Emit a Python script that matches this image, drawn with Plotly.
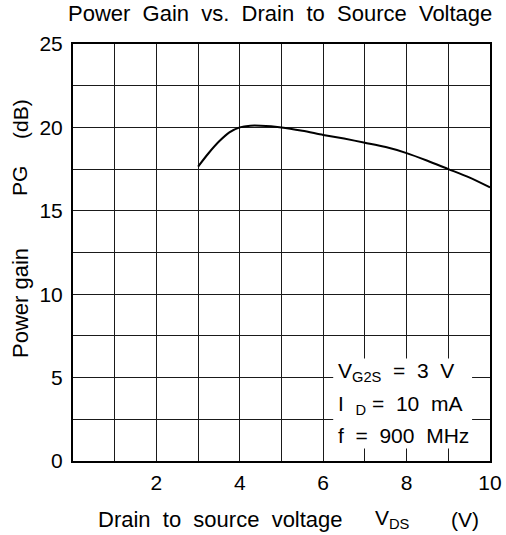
import plotly.graph_objects as go

# Data
vds = [3, 3.25, 3.5, 3.75, 4, 4.25, 4.5, 5, 5.5, 6, 6.5, 7, 7.5, 8, 8.5, 9, 9.5, 10]
pg = [17.65, 18.45, 19.15, 19.7, 20.0, 20.1, 20.1, 20.0, 19.8, 19.55, 19.33, 19.08,
      18.82, 18.46, 18.0, 17.5, 17.0, 16.4]

x_tickvals = [0, 1, 2, 3, 4, 5, 6, 7, 8, 9, 10]
x_ticktext = ["", "", "2", "", "4", "", "6", "", "8", "", "10"]
y_tickvals = [0, 2.5, 5, 7.5, 10, 12.5, 15, 17.5, 20, 22.5, 25]
y_ticktext = ["0", "", "5", "", "10", "", "15", "", "20", "", "25"]

N2 = "\u00a0\u00a0"
title_words = ["Power", "Gain", "vs.", "Drain", "to", "Source", "Voltage"]
x_title_words = ["Drain", "to", "source", "voltage"]
y_title_parts = ["Power gain", "PG", "(dB)"]

title_text = N2.join(title_words)
x_title_parts = [N2.join(x_title_words), "V<sub>DS</sub>", "(V)"]
cond_lines = ["V<sub>G2S</sub>" + N2 + "=" + N2 + "3" + N2 + "V",
              "I" + N2 + "<sub>D</sub>" + "\u00a0=" + N2 + "10" + N2 + "mA",
              "f" + N2 + "=" + N2 + "900" + N2 + "MHz"]

FONT = "Liberation Sans, Arial, Helvetica, sans-serif"

fig = go.Figure()
fig.add_trace(go.Scatter(x=vds, y=pg, mode="lines",
                         line=dict(color="black", width=2, shape="spline", smoothing=0.8),
                         showlegend=False, hoverinfo="skip"))

W, H = 506, 535
L, R, T, B = 73, 16, 44, 74
pw, ph = W - L - R, H - T - B

fig.update_layout(
    width=W, height=H,
    margin=dict(l=L, r=R, t=T, b=B, autoexpand=False),
    paper_bgcolor="white", plot_bgcolor="white",
    font=dict(family=FONT, color="black", size=21),
    showlegend=False,
)
fig.update_xaxes(range=[0, 10], tickvals=x_tickvals, ticktext=x_ticktext,
                 showgrid=True, gridcolor="#1a1a1a", gridwidth=1,
                 showline=True, linecolor="black", linewidth=2, mirror=True,
                 ticks="", zeroline=False, tickfont=dict(size=21),
                 ticklabelstandoff=2, automargin=False, fixedrange=True)
fig.update_yaxes(range=[0, 25], tickvals=y_tickvals, ticktext=y_ticktext,
                 showgrid=True, gridcolor="#1a1a1a", gridwidth=1,
                 showline=True, linecolor="black", linewidth=2, mirror=True,
                 ticks="", zeroline=False, tickfont=dict(size=21),
                 ticklabelstandoff=4, automargin=False, fixedrange=True)

# White box behind the conditions text
fig.add_shape(type="rect", xref="x", yref="y", x0=6.24, x1=9.57, y0=0.75, y1=6.15,
              fillcolor="white", line=dict(width=0), layer="above")


def px_x(p):
    return (p - L) / pw


def px_y(p):
    return (H - B - p) / ph


annotations = [
    dict(text=title_text, xref="paper", yref="paper", x=px_x(280), y=px_y(13),
         xanchor="center", yanchor="middle", showarrow=False, font=dict(size=22)),
]
for txt, xc, yc, fs in zip(x_title_parts, [220, 392, 465], [519, 519, 519], [22, 21, 21]):
    annotations.append(dict(text=txt, xref="paper", yref="paper", x=px_x(xc), y=px_y(yc),
                            xanchor="center", yanchor="middle", showarrow=False,
                            font=dict(size=fs)))
for txt, yc, fs in zip(y_title_parts, [303, 181, 119], [22, 21, 21]):
    annotations.append(dict(text=txt, xref="paper", yref="paper", x=px_x(20), y=px_y(yc),
                            xanchor="center", yanchor="middle", textangle=-90,
                            showarrow=False, font=dict(size=fs)))
for txt, ypix in zip(cond_lines, [372, 405, 435]):
    annotations.append(dict(text=txt, xref="paper", yref="paper", x=px_x(336), y=px_y(ypix),
                            xanchor="left", yanchor="middle", showarrow=False,
                            font=dict(size=21)))
fig.update_layout(annotations=annotations)

fig.write_html("out.html", config={"displayModeBar": False},
               post_script="document.body.style.margin='0px';")
